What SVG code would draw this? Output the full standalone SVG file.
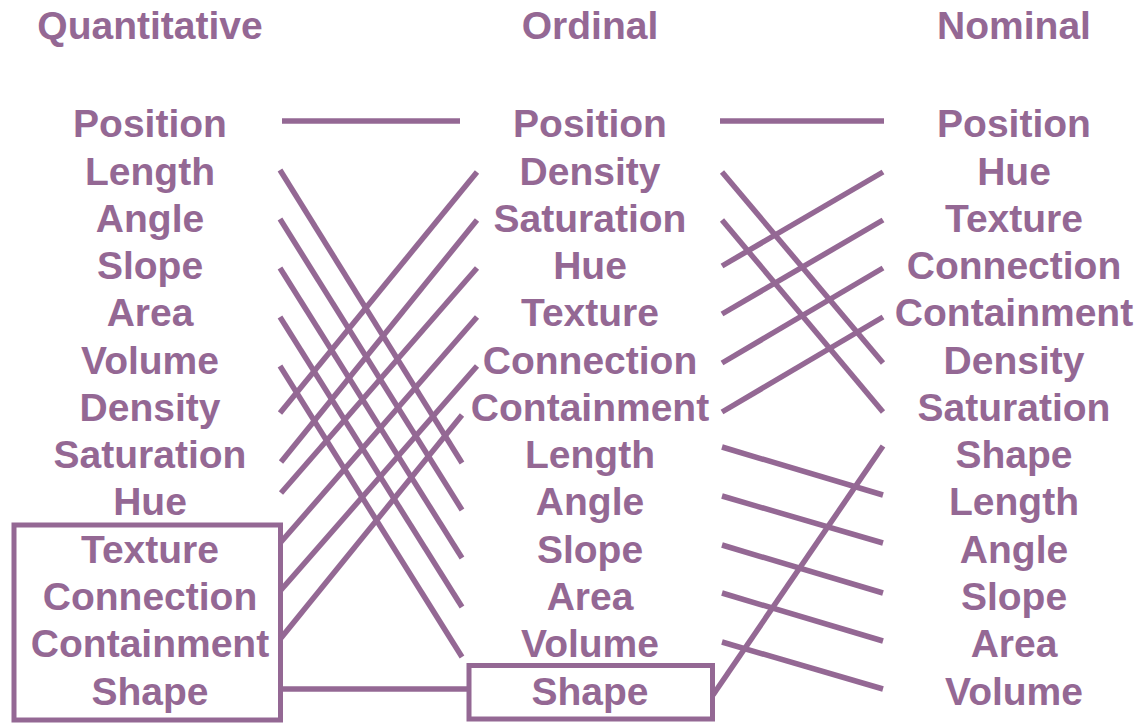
<svg xmlns="http://www.w3.org/2000/svg" width="1138" height="723" viewBox="0 0 1138 723">
<style>
text{font-family:"Liberation Sans",Arial,sans-serif;font-weight:bold;font-size:39px;fill:#946894;text-anchor:middle}
.c line{stroke:#946894;stroke-width:5.5;stroke-linecap:butt}
.box{fill:none;stroke:#946894;stroke-width:5}
</style>
<rect width="1138" height="723" fill="#fff"/>
<g id="headers">
<text x="150" y="39">Quantitative</text>
<text x="590" y="39">Ordinal</text>
<text x="1014" y="39">Nominal</text>
</g>
<g id="quantitative">
<text x="150" y="137">Position</text>
<text x="150" y="185">Length</text>
<text x="150" y="232">Angle</text>
<text x="150" y="279">Slope</text>
<text x="150" y="326">Area</text>
<text x="150" y="374">Volume</text>
<text x="150" y="421">Density</text>
<text x="150" y="468">Saturation</text>
<text x="150" y="515">Hue</text>
<g id="q-box">
<rect class="box" x="14" y="525" width="266.5" height="195"/>
<text x="150" y="563">Texture</text>
<text x="150" y="610">Connection</text>
<text x="150" y="657">Containment</text>
<text x="150" y="705">Shape</text>
</g>
</g>
<g id="ordinal">
<text x="590" y="137">Position</text>
<text x="590" y="185">Density</text>
<text x="590" y="232">Saturation</text>
<text x="590" y="279">Hue</text>
<text x="590" y="326">Texture</text>
<text x="590" y="374">Connection</text>
<text x="590" y="421">Containment</text>
<text x="590" y="468">Length</text>
<text x="590" y="515">Angle</text>
<text x="590" y="563">Slope</text>
<text x="590" y="610">Area</text>
<text x="590" y="657">Volume</text>
<g id="o-box">
<rect class="box" x="469" y="665.5" width="243.5" height="53.5"/>
<text x="590" y="705">Shape</text>
</g>
</g>
<g id="nominal">
<text x="1014" y="137">Position</text>
<text x="1014" y="185">Hue</text>
<text x="1014" y="232">Texture</text>
<text x="1014" y="279">Connection</text>
<text x="1014" y="326">Containment</text>
<text x="1014" y="374">Density</text>
<text x="1014" y="421">Saturation</text>
<text x="1014" y="468">Shape</text>
<text x="1014" y="515">Length</text>
<text x="1014" y="563">Angle</text>
<text x="1014" y="610">Slope</text>
<text x="1014" y="657">Area</text>
<text x="1014" y="705">Volume</text>
</g>
<g id="connectors" class="c">
<line x1="282" y1="121" x2="460" y2="121"/>
<line x1="280" y1="170" x2="462" y2="463"/>
<line x1="280" y1="219" x2="462" y2="510"/>
<line x1="280" y1="268" x2="462" y2="558"/>
<line x1="280" y1="317" x2="462" y2="607"/>
<line x1="280" y1="366" x2="462" y2="657"/>
<line x1="280" y1="413" x2="477" y2="172"/>
<line x1="281" y1="462" x2="477" y2="220"/>
<line x1="281" y1="493" x2="477" y2="268"/>
<line x1="281" y1="542" x2="477" y2="317"/>
<line x1="281" y1="590" x2="477" y2="366"/>
<line x1="281" y1="638" x2="462" y2="415"/>
<line x1="282" y1="689" x2="469" y2="689"/>
<line x1="720" y1="121" x2="884" y2="121"/>
<line x1="722" y1="172" x2="883" y2="363"/>
<line x1="722" y1="220" x2="883" y2="412"/>
<line x1="722" y1="266" x2="883" y2="172"/>
<line x1="722" y1="314" x2="883" y2="220"/>
<line x1="722" y1="363" x2="883" y2="268"/>
<line x1="722" y1="412" x2="883" y2="317"/>
<line x1="722" y1="447" x2="883" y2="495"/>
<line x1="722" y1="496" x2="883" y2="543"/>
<line x1="722" y1="545" x2="883" y2="593"/>
<line x1="722" y1="593" x2="883" y2="641"/>
<line x1="722" y1="642" x2="883" y2="689"/>
<line x1="713" y1="695" x2="883" y2="446"/>
</g>
</svg>
